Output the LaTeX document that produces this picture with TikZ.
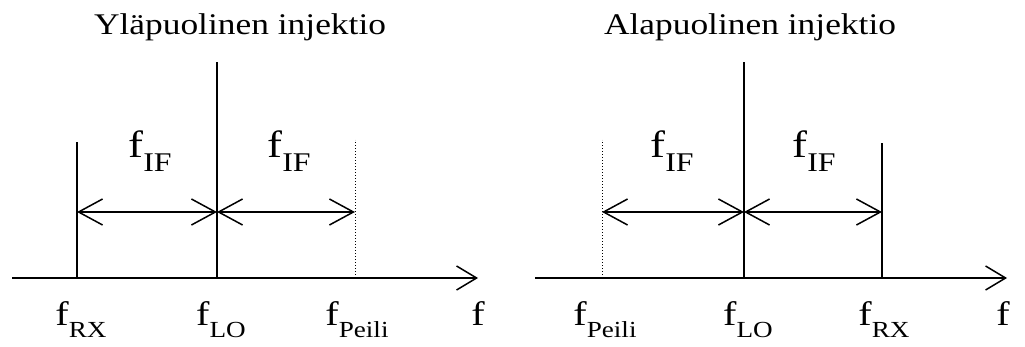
\documentclass[tikz,border=0pt]{standalone}
\usepackage{fontspec}
\setmainfont{Liberation Serif}[FakeStretch=1.18]
\usetikzlibrary{arrows.meta,positioning}
\newcommand{\fsub}[1]{f\raisebox{-0.36em}{\fontsize{23}{26}\selectfont #1}}
\newcommand{\fsubIF}[1]{f\raisebox{-0.36em}{\fontsize{27}{30}\selectfont #1}}

\begin{document}
\begin{tikzpicture}[x=1pt,y=-1pt, line width=1.5pt,
    >={Straight Barb[length=24pt,width=26pt]},
    lbl/.style={font=\fontsize{34}{40}\selectfont, anchor=base, inner sep=0pt},
    iflbl/.style={font=\fontsize{38}{44}\selectfont, anchor=base, inner sep=0pt},
    ttl/.style={font=\fontsize{30}{36}\selectfont, anchor=base, inner sep=0pt},
    image/.style={line width=1pt, dotted}]
  \useasboundingbox (0,0) rectangle (1025,347);

  % --- Yläpuolinen injektio ---
  \node[ttl] (ttlA) at (240,35) {Yläpuolinen injektio};
  \coordinate (axA0) at (12,278);
  \coordinate (axA1) at (478,278);
  \coordinate (rxA) at (77,278);  \coordinate (rxAtop) at (77,142);  \coordinate (rxAmid) at (77,212);
  \coordinate (loA) at (217,278); \coordinate (loAtop) at (217,62);  \coordinate (loAmid) at (217,212);
  \coordinate (peA) at (355,278); \coordinate (peAtop) at (355,140); \coordinate (peAmid) at (355,212);
  \draw[-{Straight Barb[length=20pt,width=24pt]}] (axA0) -- (axA1);
  \draw (rxA) -- (rxAtop);
  \draw (loA) -- (loAtop);
  \draw[image] (peA) -- (peAtop);
  \draw[<->] (rxAmid) -- (loAmid);
  \draw[<->] (loAmid) -- (peAmid);
  \node[iflbl] (ifA1) at (150,158) {\fsubIF{IF}};
  \node[iflbl] (ifA2) at (289,158) {\fsubIF{IF}};
  \node[lbl] (lrxA) at (81,325) {\fsub{RX}};
  \node[lbl] (lloA) at (221,325) {\fsub{LO}};
  \node[lbl] (lpeA) at (357,325) {\fsub{Peili}};
  \node[lbl] (lfA) at (478,325) {f};

  % --- Alapuolinen injektio ---
  \node[ttl] (ttlB) at (750,35) {Alapuolinen injektio};
  \coordinate (axB0) at (535,278);
  \coordinate (axB1) at (1007,278);
  \coordinate (peB) at (602,278); \coordinate (peBtop) at (602,140); \coordinate (peBmid) at (602,212);
  \coordinate (loB) at (744,278); \coordinate (loBtop) at (744,62);  \coordinate (loBmid) at (744,212);
  \coordinate (rxB) at (882,278); \coordinate (rxBtop) at (882,143); \coordinate (rxBmid) at (882,212);
  \draw[-{Straight Barb[length=20pt,width=24pt]}] (axB0) -- (axB1);
  \draw[image] (peB) -- (peBtop);
  \draw (loB) -- (loBtop);
  \draw (rxB) -- (rxBtop);
  \draw[<->] (peBmid) -- (loBmid);
  \draw[<->] (loBmid) -- (rxBmid);
  \node[iflbl] (ifB1) at (672,158) {\fsubIF{IF}};
  \node[iflbl] (ifB2) at (814,158) {\fsubIF{IF}};
  \node[lbl] (lpeB) at (605,325) {\fsub{Peili}};
  \node[lbl] (lloB) at (748,325) {\fsub{LO}};
  \node[lbl] (lrxB) at (884,325) {\fsub{RX}};
  \node[lbl] (lfB) at (1003,325) {f};
\end{tikzpicture}
\end{document}
